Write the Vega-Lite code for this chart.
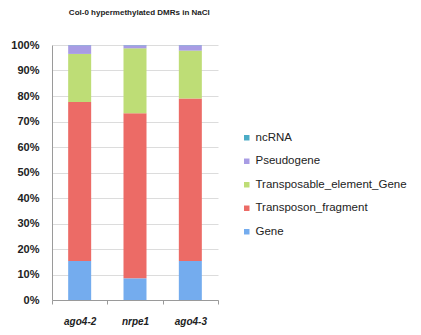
{
  "$schema": "https://vega.github.io/schema/vega-lite/v6.json",
  "autosize": "none",
  "width": 166,
  "height": 255,
  "padding": {"left": 52, "top": 45, "right": 203, "bottom": 35},
  "background": "white",
  "title": {
    "text": "Col-0 hypermethylated DMRs in NaCl",
    "anchor": "start",
    "dx": 58,
    "offset": 22,
    "font": "Liberation Sans",
    "fontSize": 8,
    "fontWeight": "bold",
    "color": "#222222"
  },
  "data": {
    "values": [
      {"sample": "ago4-2", "category": "Gene", "layer": 1, "pct": 15.3},
      {"sample": "ago4-2", "category": "Transposon_fragment", "layer": 2, "pct": 62.3},
      {"sample": "ago4-2", "category": "Transposable_element_Gene", "layer": 3, "pct": 18.9},
      {"sample": "ago4-2", "category": "Pseudogene", "layer": 4, "pct": 3.4},
      {"sample": "ago4-2", "category": "ncRNA", "layer": 5, "pct": 0.1},
      {"sample": "nrpe1", "category": "Gene", "layer": 1, "pct": 8.5},
      {"sample": "nrpe1", "category": "Transposon_fragment", "layer": 2, "pct": 64.7},
      {"sample": "nrpe1", "category": "Transposable_element_Gene", "layer": 3, "pct": 25.5},
      {"sample": "nrpe1", "category": "Pseudogene", "layer": 4, "pct": 1.2},
      {"sample": "nrpe1", "category": "ncRNA", "layer": 5, "pct": 0.1},
      {"sample": "ago4-3", "category": "Gene", "layer": 1, "pct": 15.3},
      {"sample": "ago4-3", "category": "Transposon_fragment", "layer": 2, "pct": 63.7},
      {"sample": "ago4-3", "category": "Transposable_element_Gene", "layer": 3, "pct": 18.8},
      {"sample": "ago4-3", "category": "Pseudogene", "layer": 4, "pct": 2.1},
      {"sample": "ago4-3", "category": "ncRNA", "layer": 5, "pct": 0.1}
    ]
  },
  "mark": {"type": "bar", "width": 23},
  "encoding": {
    "x": {
      "field": "sample",
      "type": "nominal",
      "sort": ["ago4-2", "nrpe1", "ago4-3"],
      "scale": {"paddingInner": 0, "paddingOuter": 0},
      "axis": {
        "title": null,
        "labelAngle": 0,
        "labelFont": "Liberation Sans",
        "labelFontSize": 10,
        "labelFontWeight": "bold",
        "labelFontStyle": "italic",
        "labelColor": "#222222",
        "labelPadding": 12,
        "domainColor": "#9a9a9a",
        "tickColor": "#9a9a9a",
        "tickBand": "extent",
        "tickSize": 4,
        "grid": false
      }
    },
    "y": {
      "field": "pct",
      "type": "quantitative",
      "stack": "zero",
      "scale": {"domain": [0, 100], "nice": false},
      "axis": {
        "title": null,
        "values": [0, 10, 20, 30, 40, 50, 60, 70, 80, 90, 100],
        "labelExpr": "datum.value + '%'",
        "labelFont": "Liberation Sans",
        "labelFontSize": 11,
        "labelFontWeight": "bold",
        "labelColor": "#222222",
        "labelPadding": 13,
        "domainColor": "#9a9a9a",
        "ticks": false,
        "gridColor": "#dcdcdc",
        "gridWidth": 1
      }
    },
    "order": {"field": "layer", "type": "quantitative", "sort": "ascending"},
    "color": {
      "field": "category",
      "type": "nominal",
      "scale": {
        "domain": ["ncRNA", "Pseudogene", "Transposable_element_Gene", "Transposon_fragment", "Gene"],
        "range": ["#4bacc6", "#a89ce4", "#bedd76", "#ec6b66", "#74acee"]
      },
      "legend": {
        "title": null,
        "orient": "none",
        "legendX": 189,
        "legendY": 87,
        "symbolType": "square",
        "symbolSize": 30,
        "symbolStrokeWidth": 0,
        "labelFont": "Liberation Sans",
        "labelFontSize": 11.5,
        "labelColor": "#222222",
        "labelOffset": 3,
        "rowPadding": 10.5
      }
    }
  },
  "config": {
    "view": {"stroke": null}
  }
}
